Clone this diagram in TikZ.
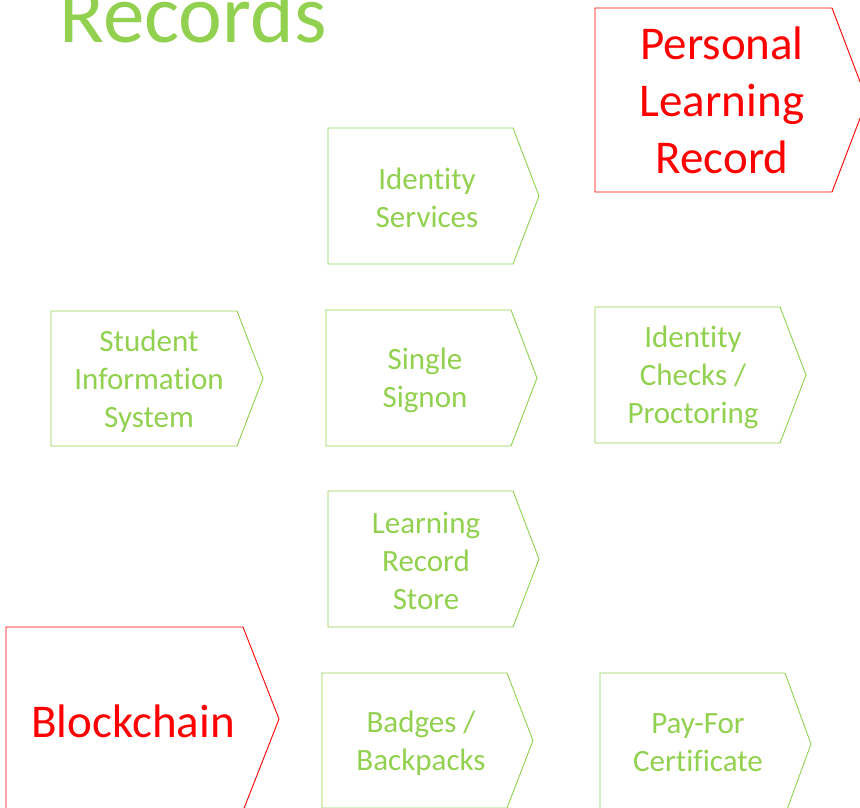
\documentclass[tikz,border=0pt]{standalone}
\usepackage{fontspec}
\setmainfont[Ligatures=NoCommon]{Carlito}
\usepackage{tikz}
\definecolor{leafgreen}{RGB}{146,208,80}
\definecolor{alertred}{RGB}{255,0,0}
\tikzset{
  greenchev/.style={draw=leafgreen, line width=0.9pt, line join=miter},
  redchev/.style={draw=alertred, line width=0.9pt, line join=miter},
  greentxt/.style={text=leafgreen, align=center, inner sep=0pt, font=\fontsize{31}{38}\selectfont},
  redtxt/.style={text=alertred, align=center, inner sep=0pt, font=\fontsize{47}{57}\selectfont}
}
\begin{document}
\begin{tikzpicture}[x=1pt, y=-1pt]
    \useasboundingbox (0,0) rectangle (860,808);
    % Title (cut at top)
    \node[text=leafgreen, font=\fontsize{83}{99}\selectfont, anchor=base, inner sep=0pt] (title) at (193,43) {Records};

    % Green chevrons: left / top / right of rectangle / tip / bottom
    \foreach \xl/\yt/\xr/\xt/\yb in {328/128/513/539/264, 51/311/237/263/446, 326/310/511/537/446,
                                      595/307/780/806/443, 328/491/513/539/627, 322/673/507/533/808,
                                      600/673/785/811/815} {
        \draw[greenchev] (\xl,\yt) -- (\xr,\yt) -- (\xt,{(\yt+\yb)/2}) -- (\xr,\yb) -- (\xl,\yb) -- cycle;
    }

    % Red chevrons
    \draw[redchev] (595,8) -- (832,8) -- (867,100) -- (832,192) -- (595,192) -- cycle;
    \draw[redchev] (6,627) -- (243,627) -- (279,719) -- (243,811) -- (6,811) -- cycle;

    % Labels
    \node[greentxt] (idserv) at (427,198) {Identity\\Services};
    \node[greentxt] (sis) at (149,381) {Student\\Information\\System};
    \node[greentxt] (sso) at (425,380) {Single\\Signon};
    \node[greentxt] (idcheck) at (693,377) {Identity\\Checks /\\Proctoring};
    \node[greentxt] (lrs) at (426,561) {Learning\\Record\\Store};
    \node[greentxt] (badges) at (421,743) {Badges /\\Backpacks};
    \node[greentxt] (payfor) at (698,743) {Pay-For\\Certificate};
    \node[redtxt] (plr) at (722,100) {Personal\\Learning\\Record};
    \node[redtxt] (chain) at (133,721) {Blockchain};
\end{tikzpicture}
\end{document}
